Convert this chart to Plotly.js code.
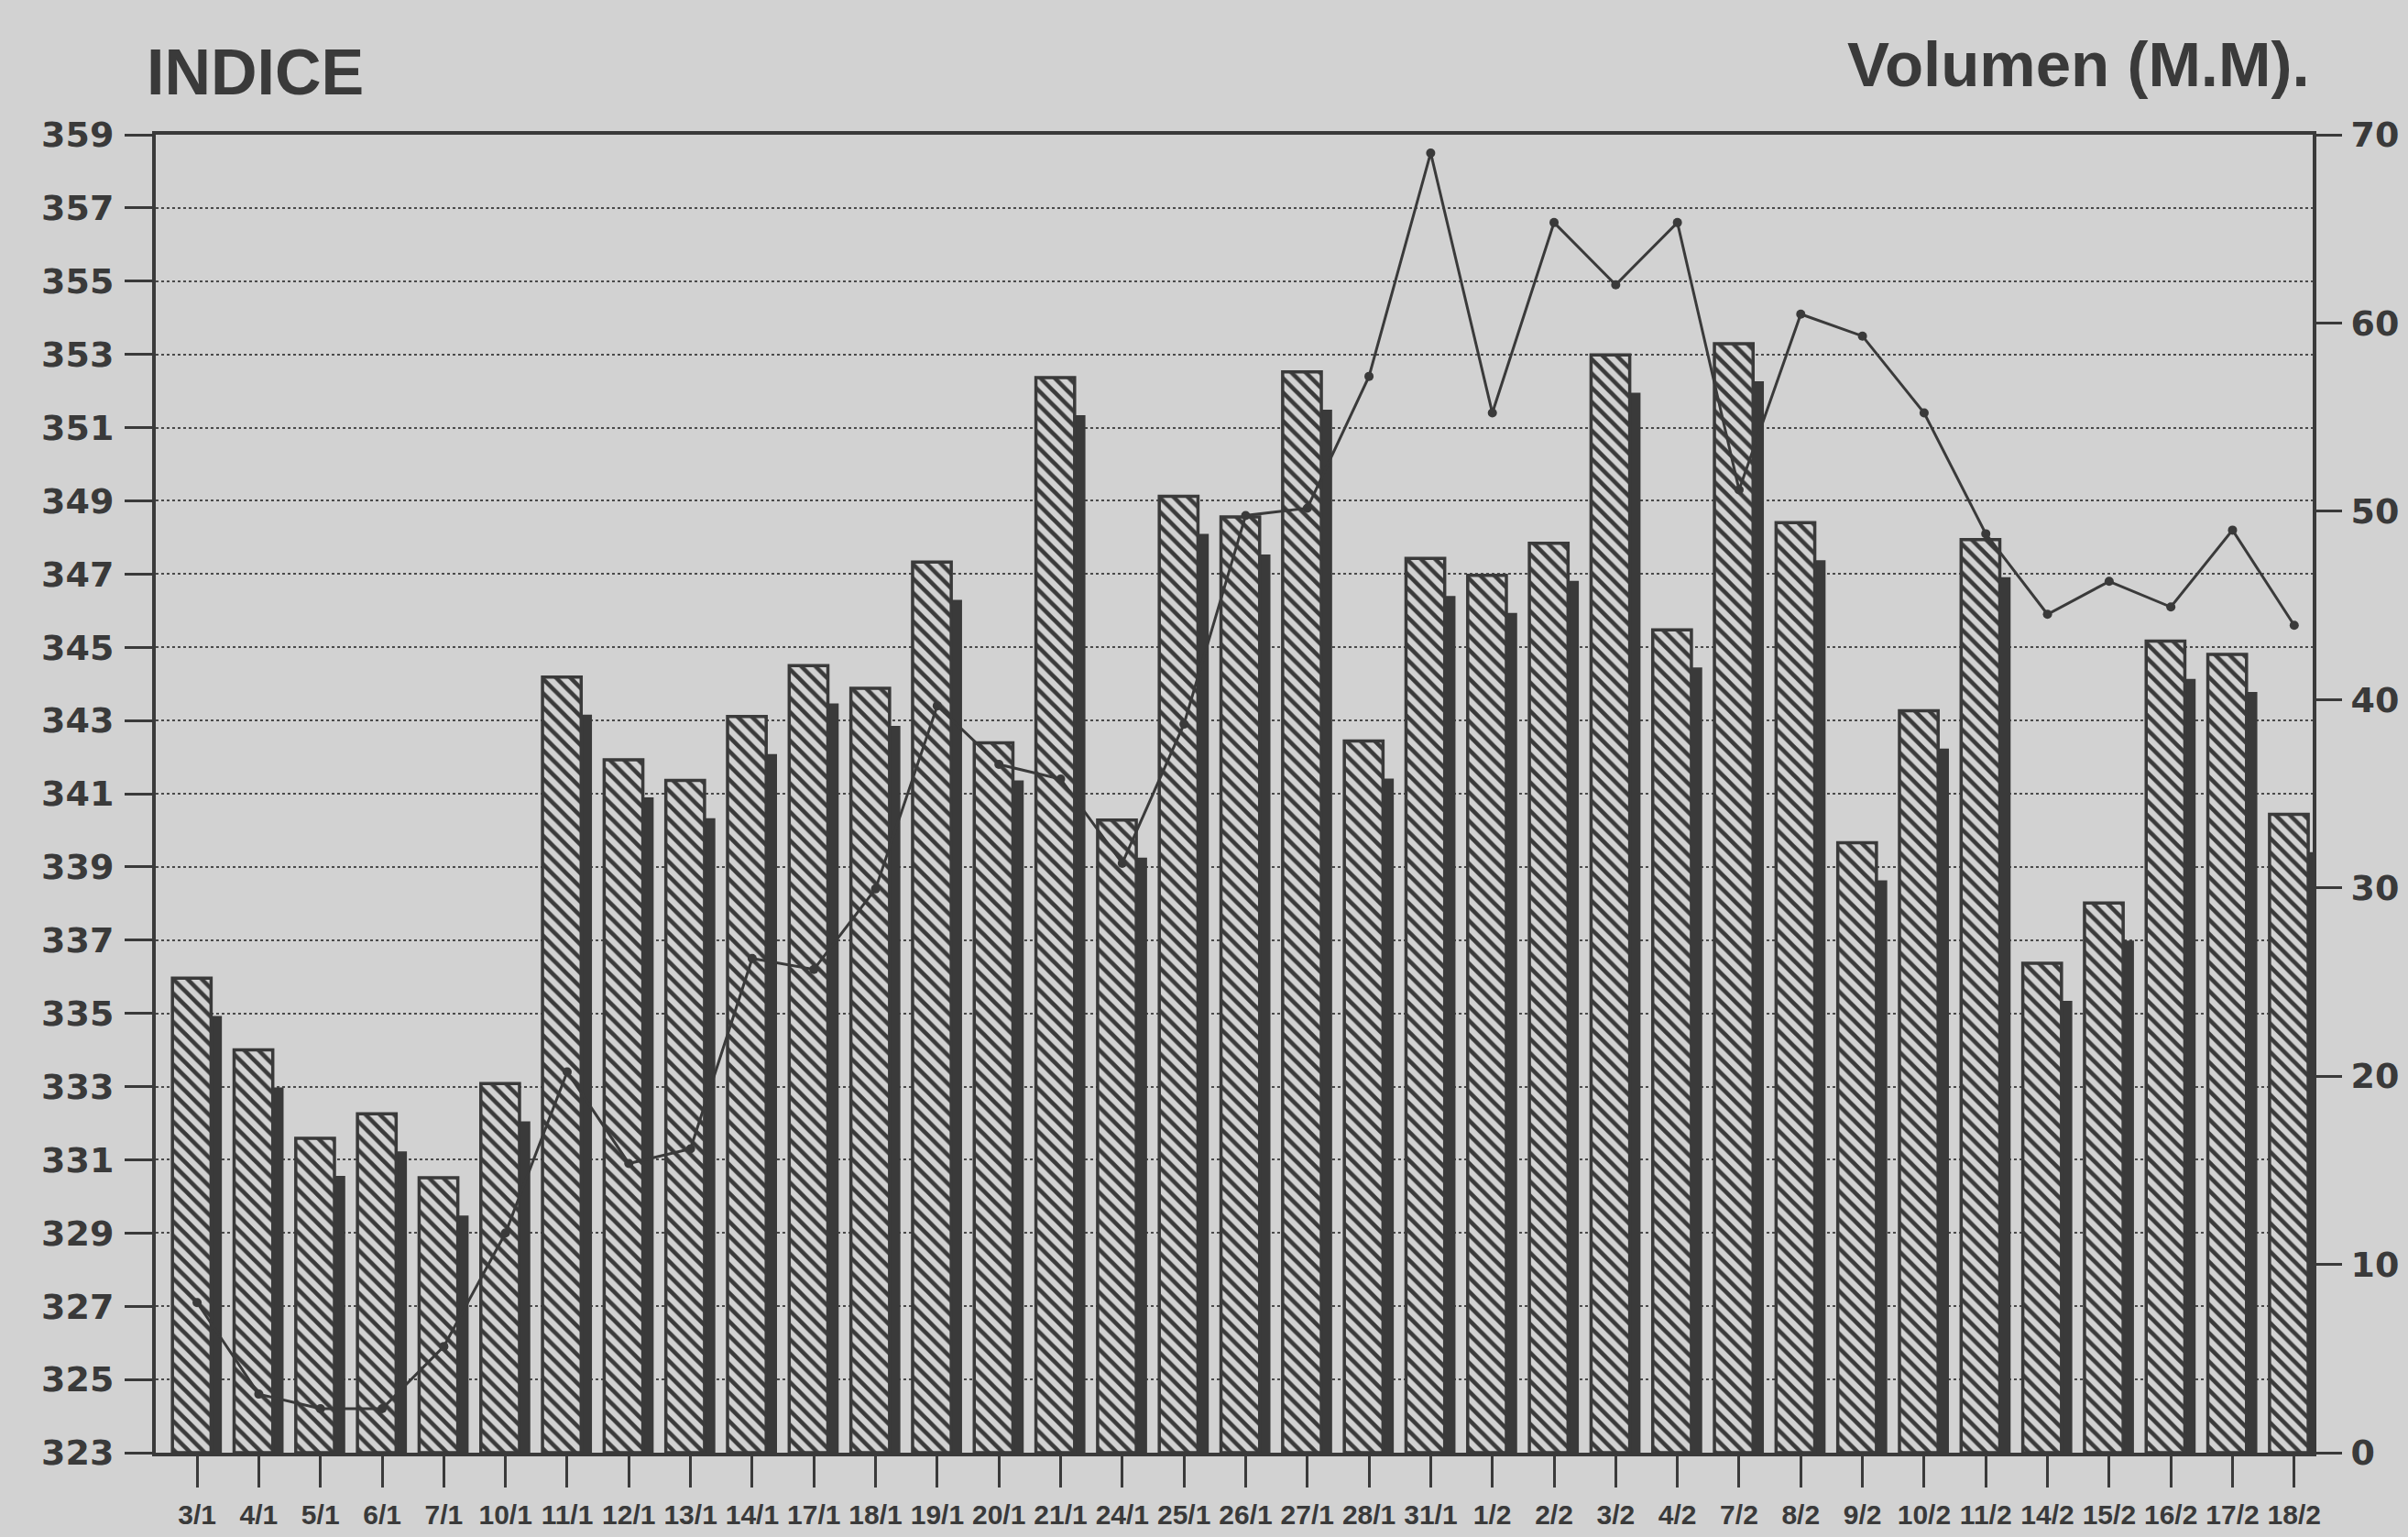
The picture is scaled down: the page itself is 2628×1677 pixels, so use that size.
<!DOCTYPE html>
<html>
<head>
<meta charset="utf-8">
<script src="https://cdn.plot.ly/plotly-3.0.1.min.js"></script>
<style>
  html, body { margin: 0; padding: 0; background: #d2d2d2; }
  #chart { width: 2628px; height: 1677px; }
</style>
</head>
<body>
<div id="chart"></div>
<script>
// Trading days (day/month)
const fechas = ['3/1','4/1','5/1','6/1','7/1','10/1','11/1','12/1','13/1','14/1',
  '17/1','18/1','19/1','20/1','21/1','24/1','25/1','26/1','27/1','28/1',
  '31/1','1/2','2/2','3/2','4/2','7/2','8/2','9/2','10/2','11/2',
  '14/2','15/2','16/2','17/2','18/2'];

// Volume (millions) - bars, right axis
const volumen = [25.2, 21.4, 16.7, 18.0, 14.6, 19.6, 41.2, 36.8, 35.7, 39.1,
  41.8, 40.6, 47.3, 37.7, 57.1, 33.6, 50.8, 49.7, 57.4, 37.8,
  47.5, 46.6, 48.3, 58.3, 43.7, 58.9, 49.4, 32.4, 39.4, 48.5,
  26.0, 29.2, 43.1, 42.4, 33.9];

// Index - line, left axis
const indice = [327.1, 324.6, 324.2, 324.2, 325.9, 329.0, 333.4, 330.9, 331.3, 336.5,
  336.2, 338.4, 343.4, 341.8, 341.4, 339.1, 342.9, 348.6, 348.8, 352.4,
  358.5, 351.4, 356.6, 354.9, 356.6, 349.3, 354.1, 353.5, 351.4, 348.1,
  345.9, 346.8, 346.1, 348.2, 345.6];

const ink = '#3a3a3a';
const paper = '#d2d2d2';
const tickFontNum = { family: 'DejaVu Sans, Liberation Sans, sans-serif', size: 38, color: ink, weight: 'bold' };
const sans = 'Liberation Sans, Arial, sans-serif';

const shadow = {
  type: 'bar', x: fechas, y: volumen, base: -2, yaxis: 'y',
  offset: 0.227, width: 0.175,
  marker: { color: ink, line: { width: 0 } },
  hoverinfo: 'skip', showlegend: false
};

const barras = {
  type: 'bar', x: fechas, y: volumen, yaxis: 'y', name: 'Volumen',
  offset: -0.4, width: 0.627,
  marker: {
    color: paper,
    pattern: { shape: '\\', fgcolor: ink, bgcolor: paper, size: 11, solidity: 0.42 },
    line: { color: ink, width: 3.5 }
  },
  showlegend: false
};

const linea = {
  type: 'scatter', mode: 'lines+markers', x: fechas, y: indice, yaxis: 'y2', name: 'Indice',
  line: { color: ink, width: 3 },
  marker: { color: ink, size: 10 },
  showlegend: false
};

const layout = {
  width: 2628, height: 1677,
  paper_bgcolor: paper, plot_bgcolor: paper,
  margin: { l: 170, r: 104, t: 147, b: 92 },
  barmode: 'overlay',
  showlegend: false,
  xaxis: {
    type: 'category', range: [-0.67, 34.3],
    ticks: 'outside', ticklen: 34, tickwidth: 3, tickcolor: ink,
    showline: true, linewidth: 4, linecolor: ink, mirror: true,
    showgrid: false, tickangle: 0, ticklabelstandoff: 4,
    tickfont: { family: sans, size: 30, color: ink, weight: 'bold' }
  },
  yaxis: {
    side: 'right', range: [0, 70], tick0: 0, dtick: 10,
    ticks: 'outside', ticklen: 28, tickwidth: 3, tickcolor: ink,
    showline: true, linewidth: 4, linecolor: ink,
    showgrid: false, zeroline: false, ticklabelstandoff: 2,
    tickfont: tickFontNum
  },
  yaxis2: {
    overlaying: 'y', side: 'left', range: [323, 359], tick0: 323, dtick: 2,
    ticks: 'outside', ticklen: 30, tickwidth: 3, tickcolor: ink,
    showline: true, linewidth: 4, linecolor: ink,
    showgrid: true, gridcolor: '#4a4a4a', gridwidth: 2, griddash: 'dot',
    zeroline: false, ticklabelstandoff: 4,
    tickfont: tickFontNum
  },
  annotations: [
    { text: 'INDICE', xref: 'paper', yref: 'paper', x: -0.005, y: 1.047,
      xanchor: 'left', yanchor: 'middle', showarrow: false,
      font: { family: sans, size: 70, color: ink, weight: 'bold' } },
    { text: 'Volumen (M.M).', xref: 'paper', yref: 'paper', x: 0.9996, y: 1.053,
      xanchor: 'right', yanchor: 'middle', showarrow: false,
      font: { family: sans, size: 69, color: ink, weight: 'bold' } }
  ]
};

Plotly.newPlot('chart', [shadow, barras, linea], layout, { staticPlot: true });
</script>
</body>
</html>
